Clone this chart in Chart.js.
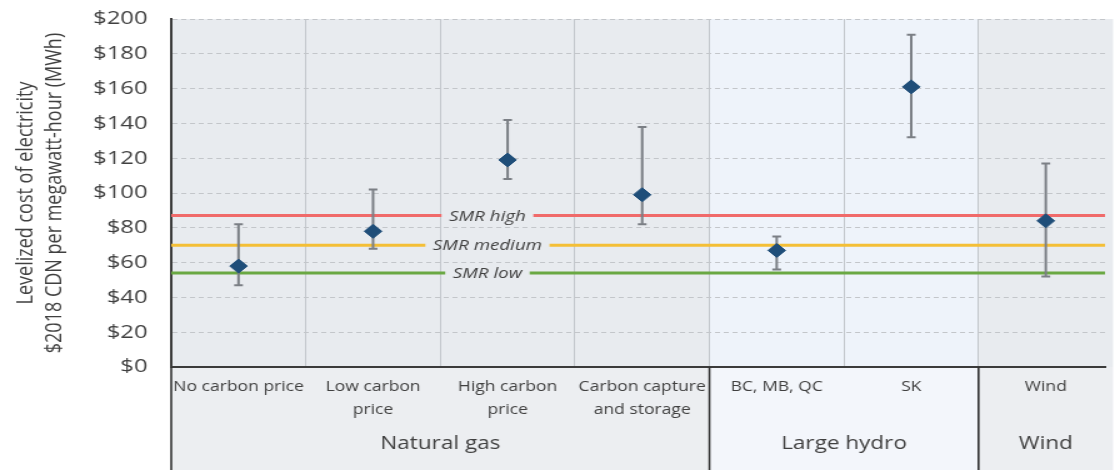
<!DOCTYPE html>
<html>
<head>
<meta charset="utf-8">
<script src="https://cdn.jsdelivr.net/npm/chart.js@4.4.1/dist/chart.umd.min.js"></script>
<style>
  html, body { margin: 0; padding: 0; background: #fff; overflow: hidden; }
  /* the source picture is stretched sideways, so draw narrow and stretch */
  #wrap { width: 892px; height: 470px; transform: scaleX(1.25); transform-origin: 0 0; }
</style>
</head>
<body>
<div id="wrap"><canvas id="lcoeChart"></canvas></div>
<script>
const categories = [['No carbon price'], ['Low carbon', 'price'], ['High carbon', 'price'],
    ['Carbon capture', 'and storage'], ['BC, MB, QC'], ['SK'], ['Wind']];
const groups = ['Natural gas', 'Large hydro', 'Wind'];
const groupFirst = [0, 4, 6];
const groupLast = [3, 5, 6];
const costMid = [58, 78, 119, 99, 67, 161, 84];
const costLow = [47, 68, 108, 82, 56, 132, 52];
const costHigh = [82, 102, 142, 138, 75, 191, 117];
const smrNames = ['SMR high', 'SMR medium', 'SMR low'];
const smrCost = [87, 70, 54];
const yTicks = [0, 20, 40, 60, 80, 100, 120, 140, 160, 180, 200];

const FONT = "'Open Sans', sans-serif";
const TEXT = '#404040';

const lcoePlugin = {
    id: 'lcoe',
    beforeDraw(chart) {
        const { ctx, chartArea, scales: { x } } = chart;
        ctx.save();
        groups.forEach((g, i) => {
            const l = x.getPixelForValue(groupFirst[i] - 0.5);
            const r = x.getPixelForValue(groupLast[i] + 0.5);
            ctx.fillStyle = i === 1 ? '#eef3fa' : '#e8ebef';
            ctx.fillRect(l, chartArea.top, r - l, chartArea.bottom - chartArea.top);
            ctx.fillStyle = i === 1 ? '#f3f6fb' : '#eceef1';
            ctx.fillRect(l, chartArea.bottom, r - l, chart.height - chartArea.bottom);
        });
        ctx.restore();
    },
    beforeDatasetsDraw(chart) {
        const { ctx, chartArea, scales: { x, y } } = chart;
        const smrColors = ['#f06a6a', '#f4bf36', '#6aa843'];
        ctx.save();
        // SMR reference lines, broken where the label sits
        const labelX = x.getPixelForValue(1.85);
        ctx.font = 'italic 15px ' + FONT;
        ctx.textAlign = 'center';
        ctx.textBaseline = 'middle';
        smrNames.forEach((name, i) => {
            const py = y.getPixelForValue(smrCost[i]);
            const half = ctx.measureText(name).width / 2 + 6;
            ctx.strokeStyle = smrColors[i];
            ctx.lineWidth = 3;
            ctx.beginPath();
            ctx.moveTo(chartArea.left, py);
            ctx.lineTo(labelX - half, py);
            ctx.moveTo(labelX + half, py);
            ctx.lineTo(chartArea.right, py);
            ctx.stroke();
            ctx.fillStyle = TEXT;
            ctx.fillText(name, labelX, py + 1);
        });
        // low / high range bars
        ctx.strokeStyle = '#7b7f85';
        ctx.lineWidth = 2;
        costMid.forEach((v, i) => {
            const px = x.getPixelForValue(i);
            const top = y.getPixelForValue(costHigh[i]);
            const bot = y.getPixelForValue(costLow[i]);
            ctx.beginPath();
            ctx.moveTo(px, top); ctx.lineTo(px, bot);
            ctx.moveTo(px - 3.5, top); ctx.lineTo(px + 3.5, top);
            ctx.moveTo(px - 3.5, bot); ctx.lineTo(px + 3.5, bot);
            ctx.stroke();
        });
        ctx.restore();
    },
    afterDraw(chart) {
        const { ctx, chartArea, scales: { x } } = chart;
        ctx.save();
        ctx.fillStyle = TEXT;
        ctx.textAlign = 'center';
        ctx.textBaseline = 'middle';
        ctx.font = '14px ' + FONT;
        categories.forEach((lines, i) => {
            const px = x.getPixelForValue(i);
            lines.forEach((t, j) => ctx.fillText(t, px, chartArea.bottom + 20 + j * 23));
        });
        ctx.font = '18px ' + FONT;
        groups.forEach((g, i) => {
            const px = x.getPixelForValue((groupFirst[i] + groupLast[i]) / 2);
            ctx.fillText(g, px, chartArea.bottom + 77);
        });
        // dark separators under the axis
        ctx.strokeStyle = '#333';
        ctx.lineWidth = 1.6;
        ctx.beginPath();
        groupFirst.forEach(f => {
            const px = x.getPixelForValue(f - 0.5);
            ctx.moveTo(px, chartArea.bottom);
            ctx.lineTo(px, chart.height);
        });
        ctx.stroke();
        ctx.restore();
    }
};

const ctx = document.getElementById('lcoeChart').getContext('2d');
const chart = new Chart(ctx, {
    type: 'scatter',
    data: {
        datasets: [{
            data: costMid.map((v, i) => ({ x: i, y: v })),
            pointStyle: 'rectRot',
            pointRadius: 7,
            backgroundColor: '#1f4e79',
            borderColor: '#1f4e79',
            borderWidth: 1
        }]
    },
    options: {
        responsive: true,
        maintainAspectRatio: false,
        animation: false,
        layout: { padding: { top: 19, bottom: 103, left: 0, right: 0 } },
        plugins: { legend: { display: false }, tooltip: { enabled: false } },
        scales: {
            x: {
                type: 'linear',
                min: -0.5,
                max: 6.44,
                afterBuildTicks: s => { s.ticks = [0.5, 1.5, 2.5, 3.5, 4.5, 5.5].map(v => ({ value: v })); },
                ticks: { display: false },
                grid: { color: '#c3c7cc', drawTicks: false },
                border: { color: '#3b3b3b', width: 2 }
            },
            y: {
                min: 0,
                max: 200,
                afterBuildTicks: s => { s.ticks = yTicks.map(v => ({ value: v })); },
                afterFit: s => { s.width = 137; },
                ticks: {
                    callback: v => '$' + v,
                    color: TEXT,
                    font: { family: FONT, size: 19 },
                    padding: 0
                },
                grid: { color: '#c3c6ca', drawTicks: true, tickLength: 19, tickColor: 'rgba(0,0,0,0)' },
                border: { color: '#3b3b3b', width: 2, dash: [4, 3] },
                title: {
                    display: true,
                    text: ['Levelized cost of electricity', '$2018 CDN per megawatt-hour (MWh)'],
                    color: TEXT,
                    font: { family: FONT, size: 18, lineHeight: 1.3 },
                    padding: { top: 9, bottom: 0 }
                }
            }
        }
    },
    plugins: [lcoePlugin]
});
</script>
</body>
</html>
